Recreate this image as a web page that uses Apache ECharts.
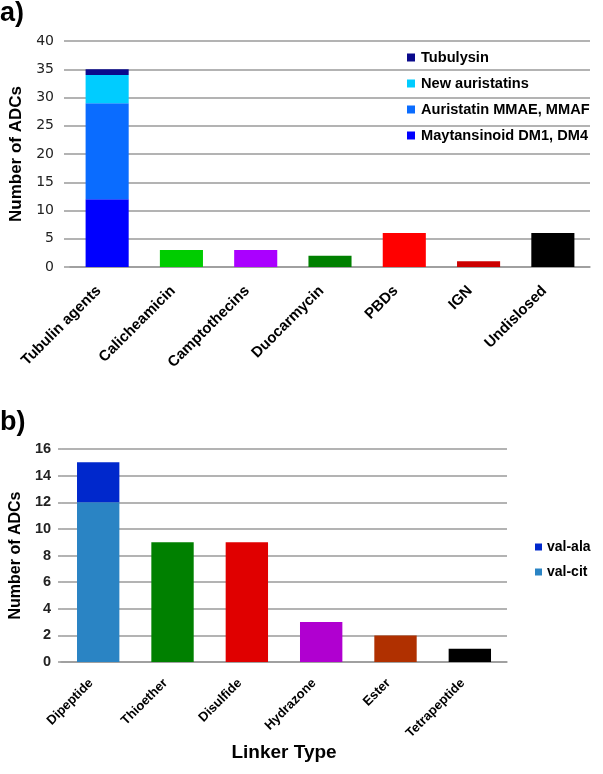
<!DOCTYPE html>
<html><head><meta charset="utf-8">
<script src="https://cdn.jsdelivr.net/npm/echarts@6/dist/echarts.min.js"></script>
<style>html,body{margin:0;padding:0;background:#fff}#c{width:603px;height:774px}</style>
</head><body><div id="c"></div>
<script>
// ---- data: panel a ----
const payloadCats = ['Tubulin agents','Calicheamicin','Camptothecins','Duocarmycin','PBDs','IGN','Undislosed'];
const maytansinoid = [12, null, null, null, null, null, null];
const auristatin = [17, null, null, null, null, null, null];
const newAuristatins = [5, null, null, null, null, null, null];
const tubulysin = [1, null, null, null, null, null, null];
const otherPayloads = [null, 3, 3, 2, 6, 1, 6];
const otherPayloadColors = [null,'#00cc00','#aa00ff','#008000','#ff0000','#cc0000','#000000'];
const yTicksA = [0,5,10,15,20,25,30,35,40];
// ---- data: panel b ----
const linkerCats = ['Dipeptide','Thioether','Disulfide','Hydrazone','Ester','Tetrapeptide'];
const valCit = [12, null, null, null, null, null];
const valAla = [3, null, null, null, null, null];
const otherLinkers = [null, 9, 9, 3, 2, 1];
const otherLinkerColors = [null,'#008000','#e00000','#b000d0','#b03000','#000000'];
const yTicksB = [0,2,4,6,8,10,12,14,16];

const FONT = '"Liberation Sans", Arial, sans-serif';
const VFONT = '"DejaVu Sans", Verdana, sans-serif';
const chart = echarts.init(document.getElementById('c'));
const gridLine = {show:true, lineStyle:{color:'#9a9a9a', width:1.5}};
const axisLine = {show:true, lineStyle:{color:'#9a9a9a', width:1.5}};

function colored(vals, cols){ return vals.map((v,i)=> v==null ? null : {value:v, itemStyle:{color:cols[i]}}); }

chart.setOption({
  animation:false,
  backgroundColor:'#fff',
  title:[
    {text:'a)', left:0, top:0, padding:0, textStyle:{fontFamily:FONT, fontWeight:'bold', fontSize:27, color:'#000'}},
    {text:'b)', left:0, top:409, padding:0, textStyle:{fontFamily:FONT, fontWeight:'bold', fontSize:27, color:'#000'}}
  ],
  legend:[
    {data:['Tubulysin','New auristatins','Auristatin MMAE, MMAF','Maytansinoid DM1, DM4'],
     orient:'vertical', left:407, top:50, itemWidth:8, itemHeight:8, itemGap:11, padding:0,
     icon:'rect', textStyle:{fontFamily:FONT, fontWeight:'bold', fontSize:14.6, color:'#000', padding:[0,0,0,1]}},
    {data:['val-ala','val-cit'],
     orient:'vertical', left:535, top:540, itemWidth:7, itemHeight:7, itemGap:11, padding:0,
     icon:'rect', textStyle:{fontFamily:FONT, fontWeight:'bold', fontSize:14, color:'#000'}}
  ],
  grid:[
    {left:57, right:13, top:41, height:226},
    {left:52, right:96, top:449, height:213}
  ],
  xAxis:[
    {gridIndex:0, type:'category', data:payloadCats, axisLine:axisLine, axisTick:{show:false},
     axisLabel:{rotate:45, margin:13, padding:[0,12,0,0], fontFamily:FONT, fontWeight:'bold', fontSize:15, color:'#000'}},
    {gridIndex:1, type:'category', data:linkerCats, axisLine:axisLine, axisTick:{show:false},
     name:'Linker Type', nameLocation:'middle', nameGap:80,
     nameTextStyle:{fontFamily:FONT, fontWeight:'bold', fontSize:19, color:'#000'},
     axisLabel:{rotate:45, margin:12, padding:[0,10,0,0], fontFamily:FONT, fontWeight:'bold', fontSize:13, color:'#000'}}
  ],
  yAxis:[
    {gridIndex:0, type:'value', min:yTicksA[0], max:yTicksA[yTicksA.length-1], interval:yTicksA[1]-yTicksA[0],
     axisLine:{show:false}, axisTick:{show:true, length:6, lineStyle:{color:'#9a9a9a', width:1.5}}, splitLine:gridLine,
     name:'Number of ADCs', nameLocation:'middle', nameGap:45,
     nameTextStyle:{fontFamily:FONT, fontWeight:'bold', fontSize:17, color:'#000'},
     axisLabel:{margin:16, fontFamily:VFONT, fontSize:14, color:'#222'}},
    {gridIndex:1, type:'value', min:yTicksB[0], max:yTicksB[yTicksB.length-1], interval:yTicksB[1]-yTicksB[0],
     axisLine:{show:false}, axisTick:{show:true, length:3, lineStyle:{color:'#9a9a9a', width:1.5}}, splitLine:gridLine,
     name:'Number of ADCs', nameLocation:'middle', nameGap:37,
     nameTextStyle:{fontFamily:FONT, fontWeight:'bold', fontSize:16, color:'#000'},
     axisLabel:{margin:10, fontFamily:FONT, fontWeight:'bold', fontSize:14.5, color:'#222'}}
  ],
  series:[
    {name:'Maytansinoid DM1, DM4', type:'bar', stack:'a', xAxisIndex:0, yAxisIndex:0, data:maytansinoid, barWidth:'58%', itemStyle:{color:'#0000ff'}},
    {name:'Auristatin MMAE, MMAF', type:'bar', stack:'a', xAxisIndex:0, yAxisIndex:0, data:auristatin, barWidth:'58%', itemStyle:{color:'#0a6cff'}},
    {name:'New auristatins', type:'bar', stack:'a', xAxisIndex:0, yAxisIndex:0, data:newAuristatins, barWidth:'58%', itemStyle:{color:'#00ccff'}},
    {name:'Tubulysin', type:'bar', stack:'a', xAxisIndex:0, yAxisIndex:0, data:tubulysin, barWidth:'58%', itemStyle:{color:'#0a0a8c'}},
    {name:'Other payloads', type:'bar', stack:'a', xAxisIndex:0, yAxisIndex:0, data:colored(otherPayloads, otherPayloadColors), barWidth:'58%'},
    {name:'val-cit', type:'bar', stack:'b', xAxisIndex:1, yAxisIndex:1, data:valCit, barWidth:'57%', itemStyle:{color:'#2a84c4'}},
    {name:'val-ala', type:'bar', stack:'b', xAxisIndex:1, yAxisIndex:1, data:valAla, barWidth:'57%', itemStyle:{color:'#0028cc'}},
    {name:'Other linkers', type:'bar', stack:'b', xAxisIndex:1, yAxisIndex:1, data:colored(otherLinkers, otherLinkerColors), barWidth:'57%'}
  ]
});
</script></body></html>
